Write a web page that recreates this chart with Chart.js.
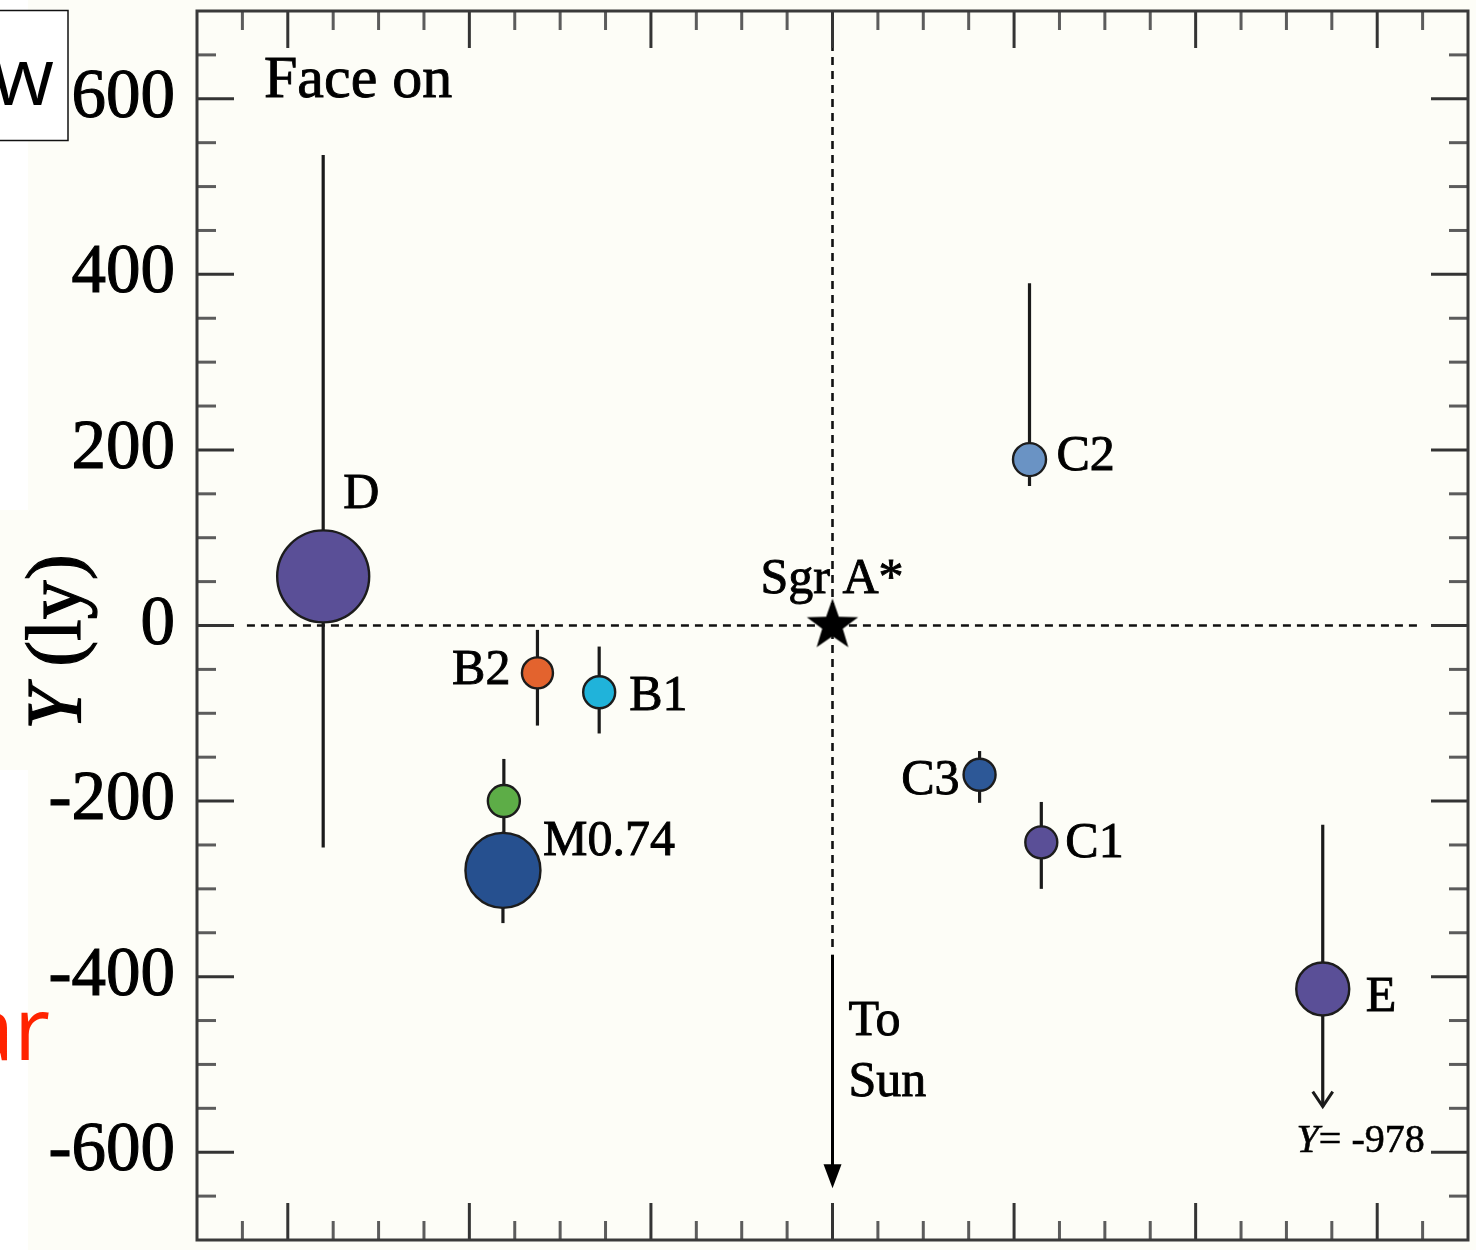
<!DOCTYPE html>
<html>
<head>
<meta charset="utf-8">
<title>Face on</title>
<script src="https://cdn.jsdelivr.net/npm/chart.js@4.4.0/dist/chart.umd.min.js"></script>
<style>
  html, body { margin: 0; padding: 0; background: #fdfdf7; }
  canvas { display: block; }
</style>
</head>
<body>
<canvas id="chart" width="1476" height="1250"></canvas>
<script>
// ---- data: face-on positions (light years) ----
const starNames = ['D', 'C2', 'B2', 'B1', '', 'M0.74', 'C3', 'C1', 'E'];
const starX     = [-561, 217, -325, -257, -362, -363, 162, 230, 540];
const starY     = [56, 189, -54, -76, -200, -279, -170, -247, -414];
const errHigh   = [536, 390, -5, -24, -152, -235, -143, -201, -227];
const errLow    = [-253, 159, -114, -123, -240, -339, -202, -300, -548];
const eTrueY    = -978;                 // actual Y of E, beyond the plotted range
const sgrA      = [{ x: 0, y: 0 }];
const sunArrowY = [-375, -641];         // "To Sun" arrow, start and tip
const axisRange = [-700, 700];
const yTickLabels = [600, 400, 200, 0, -200, -400, -600];

// ---- styles ----
const pointColors = ['#5a4f97', '#6a93c4', '#e3632e', '#20b3da', '#5dad47', '#26508f', '#2d5897', '#5a4f97', '#5a4f97'];
const pointRadii  = [46, 16.5, 15.5, 16, 16, 37.5, 16, 16, 26.5];
// label offset from the point centre in pixels, and alignment
const labelPlace = [
  { dx: 20, dy: -68, align: 'left' },
  { dx: 27, dy: 10, align: 'left' },
  { dx: -27, dy: 11, align: 'right' },
  { dx: 30, dy: 18, align: 'left' },
  null,
  { dx: 40, dy: -15, align: 'left' },
  { dx: -20, dy: 19, align: 'right' },
  { dx: 24, dy: 15, align: 'left' },
  { dx: 43, dy: 22, align: 'left' }
];
const SERIF = '"Liberation Serif", "Times New Roman", serif';
const SANS = '"Open Sans", "Noto Sans", sans-serif';
const tickStep = 50, majorStep = 200;

// filled five-pointed star used as the Sgr A* marker
function makeStar(R) {
  const c = document.createElement('canvas');
  c.width = c.height = Math.ceil(R * 2 + 4);
  const g = c.getContext('2d');
  const cx = c.width / 2, cy = c.height / 2, r = R * 0.4;
  g.beginPath();
  for (let i = 0; i < 10; i++) {
    const a = -Math.PI / 2 + i * Math.PI / 5;
    const rad = i % 2 === 0 ? R : r;
    g.lineTo(cx + rad * Math.cos(a), cy + rad * Math.sin(a));
  }
  g.closePath();
  g.fillStyle = '#000';
  g.fill();
  return c;
}

function line(ctx, x1, y1, x2, y2) {
  ctx.beginPath(); ctx.moveTo(x1, y1); ctx.lineTo(x2, y2); ctx.stroke();
}

// text with a hairline outline so the serif glyphs read a little heavier
function heavyText(ctx, s, x, y) {
  ctx.fillText(s, x, y);
  ctx.strokeText(s, x, y);
}

const decor = {
  id: 'decor',
  beforeDraw(chart) {
    const ctx = chart.ctx;
    ctx.save();
    ctx.fillStyle = '#fdfdf7';
    ctx.fillRect(0, 0, chart.width, chart.height);
    // white margin strip on the far left
    ctx.fillStyle = '#ffffff';
    ctx.fillRect(0, 0, 28, 510);
    ctx.fillRect(0, 770, 28, chart.height - 770);
    // boxed letter at the top-left
    ctx.fillStyle = '#ffffff';
    ctx.fillRect(-2, 10, 70, 131);
    ctx.strokeStyle = '#111';
    ctx.lineWidth = 1.5;
    ctx.strokeRect(-2, 10.5, 70, 130);
    ctx.fillStyle = '#000';
    ctx.font = '80px ' + SANS;
    ctx.textAlign = 'right';
    ctx.textBaseline = 'alphabetic';
    ctx.fillText('w', 54, 105);
    // red text at the lower left
    ctx.fillStyle = '#ff2300';
    ctx.font = '88px ' + SANS;
    ctx.fillText('ar', 50, 1060);
    ctx.restore();
  },
  beforeDatasetsDraw(chart) {
    const ctx = chart.ctx, xs = chart.scales.x, ys = chart.scales.y;
    ctx.save();
    // dashed cross through Sgr A*
    ctx.strokeStyle = '#111';
    ctx.lineWidth = 2.6;
    ctx.setLineDash([8, 6]);
    const x0 = xs.getPixelForValue(sgrA[0].x), y0 = ys.getPixelForValue(sgrA[0].y);
    line(ctx, xs.getPixelForValue(-645), y0, xs.getPixelForValue(645), y0);
    line(ctx, x0, ys.getPixelForValue(axisRange[1]) + 4, x0, ys.getPixelForValue(-368));
    ctx.setLineDash([]);
    // error bars
    ctx.strokeStyle = '#1a1a1a';
    ctx.lineWidth = 3.2;
    for (let i = 0; i < starX.length; i++) {
      const px = xs.getPixelForValue(starX[i]);
      line(ctx, px, ys.getPixelForValue(errHigh[i]), px, ys.getPixelForValue(errLow[i]));
    }
    // open arrow head on E's lower bar
    const ei = starNames.indexOf('E');
    const ex = xs.getPixelForValue(starX[ei]), ey = ys.getPixelForValue(errLow[ei]);
    ctx.lineWidth = 3;
    ctx.beginPath();
    ctx.moveTo(ex - 10, ey - 15); ctx.lineTo(ex, ey); ctx.lineTo(ex + 10, ey - 15);
    ctx.stroke();
    // "To Sun" arrow
    const sy1 = ys.getPixelForValue(sunArrowY[0]), sy2 = ys.getPixelForValue(sunArrowY[1]);
    ctx.strokeStyle = '#000';
    line(ctx, x0, sy1, x0, sy2 - 18);
    ctx.fillStyle = '#000';
    ctx.beginPath();
    ctx.moveTo(x0, sy2); ctx.lineTo(x0 - 9, sy2 - 24); ctx.lineTo(x0 + 9, sy2 - 24);
    ctx.closePath(); ctx.fill();
    ctx.restore();
  },
  afterDatasetsDraw(chart) {
    const ctx = chart.ctx, xs = chart.scales.x, ys = chart.scales.y, a = chart.chartArea;
    ctx.save();
    // inward tick marks on all four sides
    ctx.lineWidth = 3;
    for (let v = axisRange[0] + tickStep; v < axisRange[1]; v += tickStep) {
      const major = v % majorStep === 0;
      const len = major ? 37 : 19;
      ctx.strokeStyle = major ? '#343434' : '#5c5c5c';
      const px = xs.getPixelForValue(v);
      line(ctx, px, a.top, px, a.top + len);
      line(ctx, px, a.bottom, px, a.bottom - len);
      const py = ys.getPixelForValue(v);
      line(ctx, a.left, py, a.left + len, py);
      line(ctx, a.right, py, a.right - len, py);
    }
    // frame
    ctx.strokeStyle = '#3a3a3a';
    ctx.lineWidth = 3;
    ctx.strokeRect(a.left, a.top, a.right - a.left, a.bottom - a.top);

    ctx.fillStyle = '#000';
    ctx.strokeStyle = '#000';
    ctx.lineWidth = 0.9;
    ctx.textBaseline = 'alphabetic';
    // star labels
    ctx.font = '50px ' + SERIF;
    for (let i = 0; i < starNames.length; i++) {
      const lp = labelPlace[i];
      if (!lp || !starNames[i]) continue;
      ctx.textAlign = lp.align;
      heavyText(ctx, starNames[i], xs.getPixelForValue(starX[i]) + lp.dx, ys.getPixelForValue(starY[i]) + lp.dy);
    }
    const x0 = xs.getPixelForValue(sgrA[0].x), y0 = ys.getPixelForValue(sgrA[0].y);
    ctx.textAlign = 'left';
    heavyText(ctx, 'Sgr A*', x0 - 72, y0 - 33);
    heavyText(ctx, 'To', x0 + 16, y0 + 409);
    heavyText(ctx, 'Sun', x0 + 16, y0 + 470);
    // panel title
    ctx.font = '60px ' + SERIF;
    heavyText(ctx, 'Face on', 264, 97);

    // true Y of E, right-aligned under its arrow
    const ei = starNames.indexOf('E');
    const ex = xs.getPixelForValue(starX[ei]), ey = ys.getPixelForValue(errLow[ei]);
    const rest = '= ' + String(eTrueY);
    ctx.lineWidth = 0.6;
    ctx.font = '40px ' + SERIF;
    const wRest = ctx.measureText(rest).width;
    ctx.font = 'italic 40px ' + SERIF;
    const wY = ctx.measureText('Y').width;
    const right = ex + 102, base = ey + 45;
    heavyText(ctx, 'Y', right - wRest - wY, base);
    ctx.font = '40px ' + SERIF;
    heavyText(ctx, rest, right - wRest, base);

    // y-axis title, rotated
    ctx.lineWidth = 1.2;
    ctx.translate(80, 642);
    ctx.rotate(-Math.PI / 2);
    ctx.font = 'italic 78px ' + SERIF;
    const t1 = ctx.measureText('Y').width;
    ctx.font = '78px ' + SERIF;
    const t2 = ctx.measureText(' (ly)').width;
    const start = -(t1 + t2) / 2;
    ctx.font = 'italic 78px ' + SERIF;
    heavyText(ctx, 'Y', start, 0);
    ctx.font = '78px ' + SERIF;
    heavyText(ctx, ' (ly)', start + t1, 0);
    ctx.restore();
  }
};

function build() {
  new Chart(document.getElementById('chart'), {
    type: 'scatter',
    data: {
      datasets: [
        {
          label: 'stars',
          data: starX.map((x, i) => ({ x: x, y: starY[i] })),
          backgroundColor: pointColors,
          borderColor: '#1c1c1c',
          borderWidth: 2.4,
          pointRadius: pointRadii,
          pointHoverRadius: pointRadii,
          clip: false
        },
        {
          label: 'Sgr A*',
          data: sgrA,
          pointStyle: makeStar(27),
          pointRadius: 27,
          clip: false
        }
      ]
    },
    options: {
      responsive: false,
      animation: false,
      devicePixelRatio: 1,
      events: [],
      layout: { autoPadding: false, padding: { left: 0, top: 11, right: 8, bottom: 0 } },
      plugins: { legend: { display: false }, tooltip: { enabled: false } },
      scales: {
        x: {
          type: 'linear',
          min: axisRange[0], max: axisRange[1],
          ticks: { display: false, stepSize: tickStep },
          grid: { display: false, drawTicks: false },
          border: { display: false },
          afterFit: (s) => { s.height = 10; }
        },
        y: {
          type: 'linear',
          position: 'left',
          min: axisRange[0], max: axisRange[1],
          ticks: {
            stepSize: tickStep,
            autoSkip: false,
            padding: 22,
            color: '#000',
            textStrokeColor: '#000',
            textStrokeWidth: 1.1,
            font: { family: '"Liberation Serif", "Times New Roman", serif', size: 69 },
            callback: (v) => yTickLabels.includes(v) ? String(v) : ''
          },
          grid: { display: false, drawTicks: false },
          border: { display: false },
          afterFit: (s) => { s.width = 197; s.paddingTop = 0; s.paddingBottom = 0; }
        }
      }
    },
    plugins: [decor]
  });
}

if (document.fonts && document.fonts.load) {
  Promise.all([
    document.fonts.load('69px "Liberation Serif"'),
    document.fonts.load('italic 40px "Liberation Serif"'),
    document.fonts.load('80px "Open Sans"')
  ]).then(build, build);
} else {
  build();
}
</script>
</body>
</html>
